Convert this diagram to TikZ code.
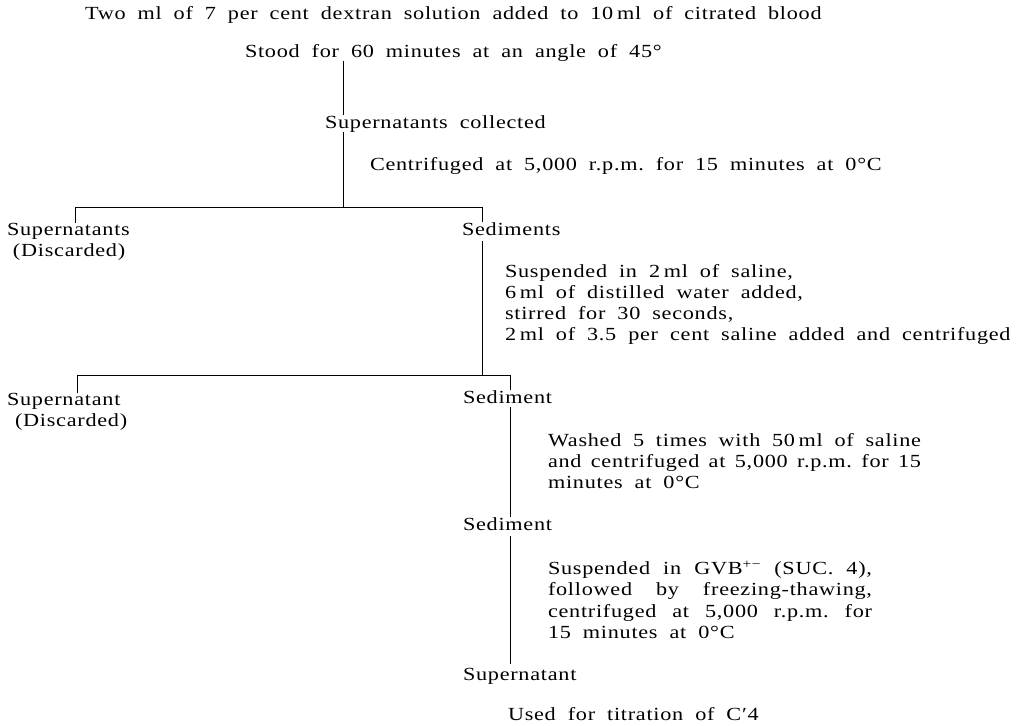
\documentclass[tikz,border=0pt]{standalone}
\usepackage{fontspec}
\setmainfont[FakeStretch=1.2,LetterSpace=4,WordSpace=1.9]{Liberation Serif}
\newcommand{\tsp}{\hspace{0.2em}}
\frenchspacing
\begin{document}
\begin{tikzpicture}[x=1pt,y=-1pt,
  every node/.style={inner sep=0pt,outer sep=0pt,font=\fontsize{18.5}{21.3}\selectfont\frenchspacing},
  txt/.style={anchor=base west},
  blk/.style={anchor=north west,align=left},
  conn/.style={draw=black,line width=0.8pt}]
\useasboundingbox[fill=white] (0,0) rectangle (1019,725);
% texts
\node[txt] (start) at (85,20) {Two ml of 7 per cent dextran solution added to 10\tsp ml of citrated blood};
\node[txt] (stood) at (245,57) {Stood for 60 minutes at an angle of 45°};
\node[txt] (supcol) at (325,128) {Supernatants collected};
\node[txt] (cent1) at (370,170) {Centrifuged at 5,000 r.p.m. for 15 minutes at 0°C};
\node[blk] (disc1) at (7,223) {Supernatants\\\hspace*{6pt}(Discarded)};
\node[txt] (sed1) at (462,235) {Sediments};
\node[blk] (susp) at (505,264) {Suspended in 2\tsp ml of saline,\\6\tsp ml of distilled water added,\\stirred for 30 seconds,\\2\tsp ml of 3.5 per cent saline added and centrifuged};
\node[blk] (disc2) at (7,393) {Supernatant\\\hspace*{8pt}(Discarded)};
\node[txt] (sed2) at (463,403) {Sediment};
\node[blk] (wash) at (548,433) {\makebox[373pt][s]{Washed 5 times with 50\tsp ml of saline}\\\makebox[373pt][s]{and centrifuged at 5,000 r.p.m. for 15}\\minutes at 0°C};
\node[txt] (sed3) at (463,530) {Sediment};
\node[blk] (gvb) at (548,561) {\makebox[324pt][s]{Suspended in GVB\textsuperscript{+−} (SUC. 4),}\\\makebox[324pt][s]{followed by freezing-thawing,}\\\makebox[324pt][s]{centrifuged at 5,000 r.p.m. for}\\15 minutes at 0°C};
\node[txt] (supfin) at (463,680) {Supernatant};
\node[txt] (used) at (508,720) {Used for titration of C′4};
% junctions
\coordinate (jA) at (343,207);
\coordinate (h1l) at (75,207);
\coordinate (h1r) at (482,207);
\coordinate (h2l) at (77,375);
\coordinate (h2m) at (482,375);
\coordinate (h2r) at (510,375);
% connectors
\draw[conn] (stood.south -| jA) -- (supcol.north -| jA);
\draw[conn] (supcol.south -| jA) -- (jA);
\draw[conn] (h1l |- disc1.north) -- (h1l) -- (h1r) -- (h1r |- sed1.north);
\draw[conn,shorten <=6pt] (sed1.south -| h1r) -- (h2m);
\draw[conn] (h2l |- disc2.north) -- (h2l) -- (h2r) -- (h2r |- sed2.north);
\draw[conn,shorten <=4pt] (sed2.south -| h2r) -- (sed3.north -| h2r);
\draw[conn,shorten <=6pt,shorten >=4pt] (sed3.south -| h2r) -- (supfin.north -| h2r);
\end{tikzpicture}
\end{document}
